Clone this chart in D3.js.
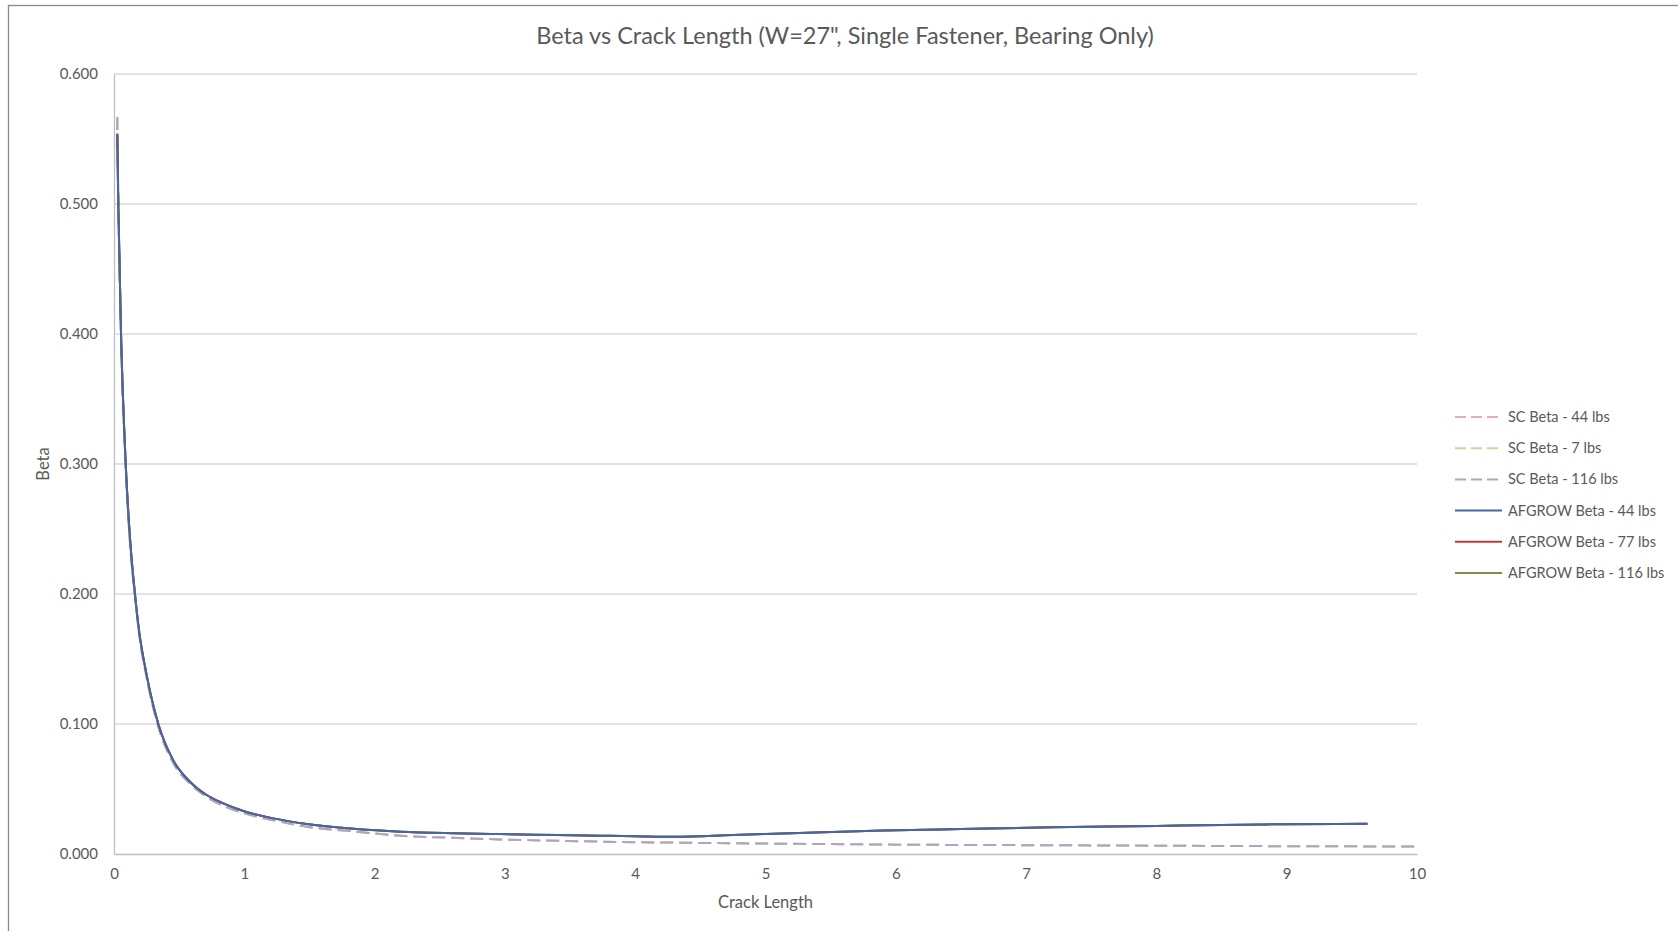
<!DOCTYPE html>
<meta charset="utf-8">
<style>
  body { margin: 0; background: #fff; }
  text { font-family: Lato, "Open Sans", sans-serif; fill: #595959; }
</style>
<div id="chart"></div>
<script src="https://d3js.org/d3.v7.min.js"></script>
<script>

// crack length / beta
var crackSC = [0.025, 0.033, 0.054, 0.09, 0.125, 0.161, 0.192, 0.25, 0.34, 0.455, 0.583, 0.711, 0.839, 0.993, 1.223, 1.479, 1.862, 2.2, 2.6, 2.96, 3.4, 3.73, 4.34, 5.0, 5.42, 6.0, 7.0, 8.0, 8.49, 9.0, 10.0];
var betaSC  = [0.567, 0.505, 0.400, 0.298, 0.236, 0.198, 0.170, 0.136, 0.098, 0.070, 0.054, 0.044, 0.037, 0.0315, 0.026, 0.021, 0.0172, 0.0140, 0.0125, 0.0112, 0.0102, 0.0095, 0.0087, 0.0080, 0.0077, 0.0072, 0.0068, 0.0064, 0.0062, 0.0060, 0.0058];

var crackAF = [0.025, 0.033, 0.054, 0.09, 0.125, 0.161, 0.192, 0.25, 0.34, 0.455, 0.583, 0.711, 0.839, 0.993, 1.223, 1.479, 1.862, 2.2, 2.6, 2.96, 3.4, 3.73, 4.0, 4.3, 4.75, 5.26, 5.9, 6.5, 7.2, 8.0, 8.5, 9.0, 9.62];
var betaAF  = [0.554, 0.500, 0.400, 0.300, 0.240, 0.200, 0.172, 0.138, 0.100, 0.072, 0.0556, 0.0454, 0.039, 0.0331, 0.0274, 0.0231, 0.0192, 0.0172, 0.0160, 0.0153, 0.0146, 0.0141, 0.0137, 0.0133, 0.0146, 0.0162, 0.0180, 0.0192, 0.0205, 0.0216, 0.0224, 0.0229, 0.0233];

var seriesNames = ["SC Beta - 44 lbs", "SC Beta - 7 lbs", "SC Beta - 116 lbs",
                   "AFGROW Beta - 44 lbs", "AFGROW Beta - 77 lbs", "AFGROW Beta - 116 lbs"];
var seriesColors = ["#e6b0af", "#c6d9a0", "#b1a3c6", "#4169a6", "#be3a36", "#77933c"];
var seriesDashed = [true, true, true, false, false, false];

var yTicks = [0, 0.1, 0.2, 0.3, 0.4, 0.5, 0.6];
var xTicks = [0, 1, 2, 3, 4, 5, 6, 7, 8, 9, 10];

function pts(xs, ys) { return xs.map(function(d, i) { return [d, ys[i]]; }); }

// the load cases fall on top of each other (beta is normalised)
var series = [
  { name: seriesNames[0], data: pts(crackSC, betaSC) },
  { name: seriesNames[1], data: pts(crackSC, betaSC) },
  { name: seriesNames[2], data: pts(crackSC, betaSC) },
  { name: seriesNames[3], data: pts(crackAF, betaAF) },
  { name: seriesNames[4], data: pts(crackAF, betaAF) },
  { name: seriesNames[5], data: pts(crackAF, betaAF) }
];

var W = 1678, H = 931;
var margin = {top: 74, left: 114, right: W - 1417, bottom: H - 854};
var width = W - margin.left - margin.right,
    height = H - margin.top - margin.bottom;

var root = d3.select("#chart").append("svg")
    .attr("width", W)
    .attr("height", H);

// chart frame (runs off the right/bottom of the picture)
root.append("rect")
    .attr("x", 8.5).attr("y", 5.5)
    .attr("width", 1800).attr("height", 1000)
    .attr("fill", "none")
    .attr("stroke", "#8a8a8a")
    .attr("stroke-width", 1.3);

root.append("text")
    .attr("x", 845).attr("y", 44)
    .attr("text-anchor", "middle")
    .style("font-size", "23.5px")
    .text("Beta vs Crack Length (W=27\", Single Fastener, Bearing Only)");

var svg = root.append("g")
    .attr("transform", "translate(" + margin.left + "," + margin.top + ")");

var x = d3.scaleLinear().domain([0, 10]).range([0, width]);
var y = d3.scaleLinear().domain([0, 0.6]).range([height, 0]);

// gridlines
svg.append("g")
  .selectAll("line")
  .data(yTicks.slice(1))
  .enter().append("line")
    .attr("x1", 0).attr("x2", width)
    .attr("y1", function(d) { return y(d); })
    .attr("y2", function(d) { return y(d); })
    .attr("stroke", "#d9d9d9")
    .attr("stroke-width", 1.3);

// y axis
var yAxis = svg.append("g")
    .call(d3.axisLeft(y).tickValues(yTicks).tickFormat(d3.format(".3f")).tickSize(0).tickPadding(16));
yAxis.select(".domain").attr("stroke", "#bfbfbf").attr("stroke-width", 1.3);
yAxis.selectAll("text").style("font-size", "15px").attr("fill", "#595959");

// x axis
var xAxis = svg.append("g")
    .attr("transform", "translate(0," + height + ")")
    .call(d3.axisBottom(x).tickValues(xTicks).tickSize(0).tickPadding(14));
xAxis.select(".domain").attr("stroke", "#bfbfbf").attr("stroke-width", 1.3);
xAxis.selectAll("text").style("font-size", "15px").attr("fill", "#595959");

svg.append("text")
    .attr("x", width / 2).attr("y", height + 54)
    .attr("text-anchor", "middle")
    .style("font-size", "16.5px")
    .text("Crack Length");

svg.append("text")
    .attr("transform", "translate(" + (48.5 - margin.left) + "," + (height / 2) + ") rotate(-90)")
    .attr("text-anchor", "middle")
    .style("font-size", "16.5px")
    .text("Beta");

var line = d3.line()
    .x(function(d) { return x(d[0]); })
    .y(function(d) { return y(d[1]); })
    .curve(d3.curveMonotoneX);

// SC first, then AFGROW with the 44 lbs line drawn last so it sits on top
var drawOrder = [0, 1, 2, 5, 4, 3];
drawOrder.forEach(function(i) {
  svg.append("path")
      .datum(series[i].data)
      .attr("d", line)
      .attr("fill", "none")
      .attr("stroke", seriesColors[i])
      .attr("stroke-width", seriesDashed[i] ? 2 : 2)
      .attr("stroke-dasharray", seriesDashed[i] ? "13,6" : null);
});

// legend
var legend = root.append("g").attr("transform", "translate(1455,417)");
seriesNames.forEach(function(name, i) {
  var row = legend.append("g").attr("transform", "translate(0," + (i * 31.2) + ")");
  row.append("line")
      .attr("x1", 0).attr("x2", 47)
      .attr("stroke", seriesColors[i])
      .attr("stroke-width", 2)
      .attr("stroke-dasharray", seriesDashed[i] ? "11,5" : null);
  row.append("text")
      .attr("x", 53).attr("y", 0)
      .attr("dy", "0.35em")
      .style("font-size", "14.5px")
      .text(name);
});

</script>
